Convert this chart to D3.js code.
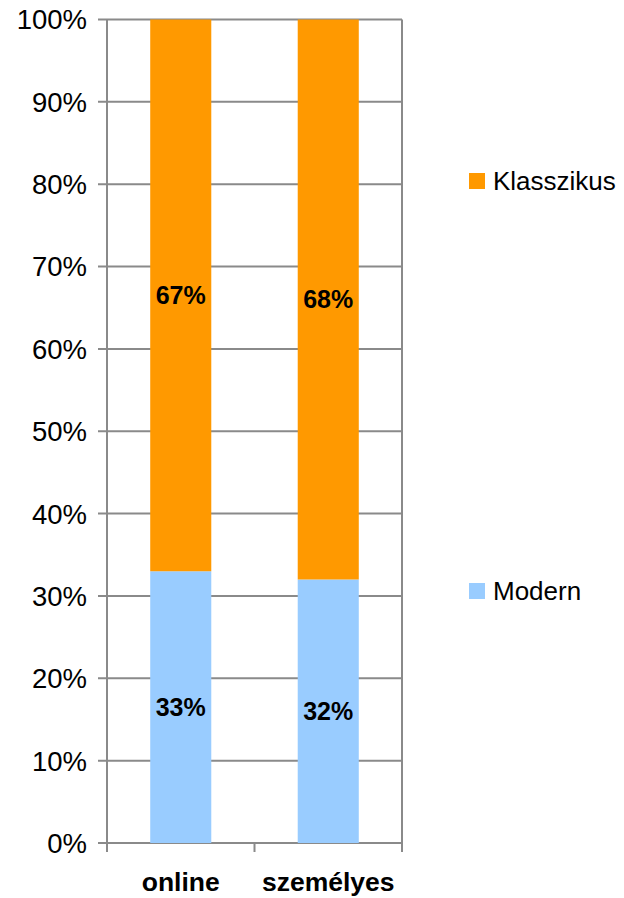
<!DOCTYPE html>
<html>
<head>
<meta charset="utf-8">
<script src="https://cdn.jsdelivr.net/npm/d3@7"></script>
<style>
  body { margin: 0; background: #fff; }
  svg { font-family: "Liberation Sans", Arial, sans-serif; }
</style>
</head>
<body>
<div id="mainContainer"></div>
<script>
var categories = ["online", "személyes"];
var seriesNames = ["Modern", "Klasszikus"];
var modern = [33, 32];
var klasszikus = [67, 68];
var yTicks = [0, 10, 20, 30, 40, 50, 60, 70, 80, 90, 100];
var colors = { "Modern": "#99ccff", "Klasszikus": "#ff9900" };

var width = 624, height = 898;
var plot = { left: 107, right: 402, top: 19.5, bottom: 843 };

var svg = d3.select('#mainContainer').append('svg')
    .attr('width', width)
    .attr('height', height);

var xscale = d3.scaleBand()
    .domain(categories)
    .range([plot.left, plot.right])
    .paddingInner(0.586)
    .paddingOuter(0.293);

var yscale = d3.scaleLinear()
    .domain([0, 100])
    .range([plot.bottom, plot.top]);

// gridlines
svg.append('g')
    .selectAll('line')
    .data(yTicks)
    .enter()
    .append('line')
    .attr('x1', plot.left - 9)
    .attr('x2', plot.right)
    .attr('y1', function (d) { return yscale(d); })
    .attr('y2', function (d) { return yscale(d); })
    .attr('stroke', '#8a8a8a')
    .attr('stroke-width', 2);

// right border
svg.append('line')
    .attr('x1', plot.right).attr('x2', plot.right)
    .attr('y1', plot.top).attr('y2', plot.bottom + 9)
    .attr('stroke', '#8a8a8a').attr('stroke-width', 2);

// left axis line
svg.append('line')
    .attr('x1', plot.left).attr('x2', plot.left)
    .attr('y1', plot.top).attr('y2', plot.bottom + 9)
    .attr('stroke', '#8a8a8a').attr('stroke-width', 2);

// y tick labels
svg.append('g')
    .selectAll('text')
    .data(yTicks)
    .enter()
    .append('text')
    .attr('x', 87)
    .attr('y', function (d) { return yscale(d); })
    .attr('dy', '0.36em')
    .attr('text-anchor', 'end')
    .attr('font-size', '27.5px')
    .attr('fill', '#000')
    .text(function (d) { return d + '%'; });

// bottom ticks between categories
var catEdges = [plot.left, (plot.left + plot.right) / 2, plot.right];
svg.append('g')
    .selectAll('line')
    .data(catEdges)
    .enter()
    .append('line')
    .attr('x1', function (d) { return d; })
    .attr('x2', function (d) { return d; })
    .attr('y1', plot.bottom)
    .attr('y2', plot.bottom + 9)
    .attr('stroke', '#8a8a8a')
    .attr('stroke-width', 2);

// stacked data
var table = categories.map(function (c, i) {
    return { cat: c, Modern: modern[i], Klasszikus: klasszikus[i] };
});
var stacked = d3.stack().keys(seriesNames)(table);

var layers = svg.append('g')
    .selectAll('g')
    .data(stacked)
    .enter()
    .append('g')
    .attr('fill', function (d) { return colors[d.key]; });

layers.selectAll('rect')
    .data(function (d) { return d; })
    .enter()
    .append('rect')
    .attr('x', function (d) { return xscale(d.data.cat); })
    .attr('width', xscale.bandwidth())
    .attr('y', function (d) { return yscale(d[1]); })
    .attr('height', function (d) { return yscale(d[0]) - yscale(d[1]); });

layers.selectAll('text')
    .data(function (d) { return d; })
    .enter()
    .append('text')
    .attr('x', function (d) { return xscale(d.data.cat) + xscale.bandwidth() / 2; })
    .attr('y', function (d) { return (yscale(d[0]) + yscale(d[1])) / 2; })
    .attr('dy', '0.36em')
    .attr('text-anchor', 'middle')
    .attr('font-size', '25px')
    .attr('font-weight', 'bold')
    .attr('fill', '#000')
    .text(function (d) { return (d[1] - d[0]) + '%'; });

// x category labels
svg.append('g')
    .selectAll('text')
    .data(categories)
    .enter()
    .append('text')
    .attr('x', function (d) { return xscale(d) + xscale.bandwidth() / 2; })
    .attr('y', 891)
    .attr('text-anchor', 'middle')
    .attr('font-size', '26.5px')
    .attr('font-weight', 'bold')
    .attr('fill', '#000')
    .text(function (d) { return d; });

// legend
var legendItems = [
    { name: "Klasszikus", y: 181 },
    { name: "Modern", y: 591 }
];
var leg = svg.append('g')
    .selectAll('g')
    .data(legendItems)
    .enter()
    .append('g')
    .attr('transform', function (d) { return 'translate(469,' + d.y + ')'; });

leg.append('rect')
    .attr('x', 0).attr('y', -8)
    .attr('width', 16).attr('height', 16)
    .attr('fill', function (d) { return colors[d.name]; });

leg.append('text')
    .attr('x', 24)
    .attr('y', 0)
    .attr('dy', '0.36em')
    .attr('font-size', '26px')
    .attr('fill', '#000')
    .text(function (d) { return d.name; });
</script>
</body>
</html>
